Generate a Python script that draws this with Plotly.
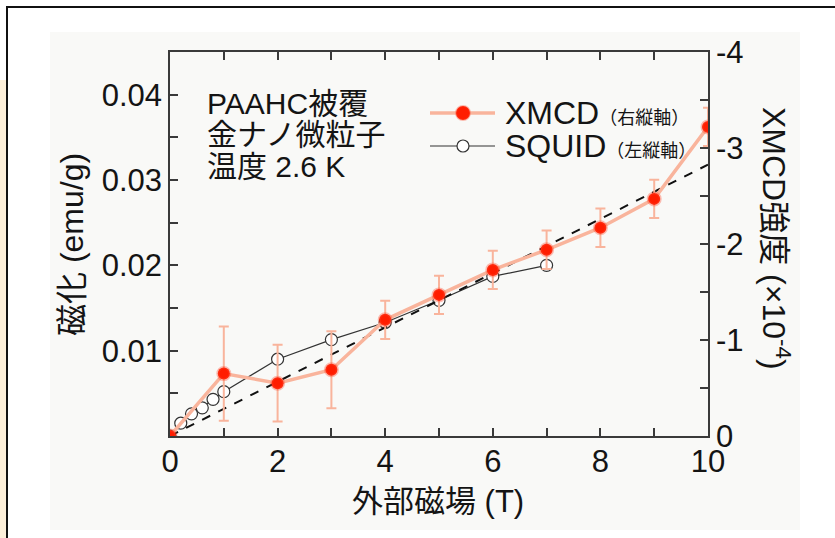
import plotly.graph_objects as go

# ---------------- data ----------------
field_xmcd = [0, 1, 2, 3, 4, 5, 6, 7, 8, 9, 10]
xmcd = [0.0, -0.65, -0.55, -0.69, -1.21, -1.47, -1.73, -1.94, -2.17, -2.47, -3.22]
xmcd_err = [0.0, 0.49, 0.40, 0.40, 0.20, 0.20, 0.20, 0.20, 0.20, 0.20, 0.20]

field_squid = [0, 0.2, 0.4, 0.6, 0.8, 1, 2, 3, 4, 5, 6, 7]
squid = [0.0, 0.0015, 0.0026, 0.0033, 0.0043, 0.0052, 0.0090, 0.0113, 0.0133, 0.0159, 0.0187, 0.0200]

fit_field = [0, 10]
fit_mag = [0.0, 0.0318]

x_tickvals = [0, 1, 2, 3, 4, 5, 6, 7, 8, 9, 10]
x_ticktext = ["0", " ", "2", " ", "4", " ", "6", " ", "8", " ", "10"]
yl_tickvals = [0, 0.005, 0.01, 0.015, 0.02, 0.025, 0.03, 0.035, 0.04, 0.045]
yl_ticktext = [" ", " ", "0.01", " ", "0.02", " ", "0.03", " ", "0.04", " "]
yr_tickvals = [0, -0.5, -1, -1.5, -2, -2.5, -3, -3.5, -4]
yr_ticktext = ["0", " ", "-1", " ", "-2", " ", "-3", " ", "-4"]

notes = ["PAAHC被覆", "金ナノ微粒子", "温度 2.6 K"]
x_title = "外部磁場 (T)"
yl_title = "磁化 (emu/g)"
yr_title = "XMCD強度 (×10<sup>-4</sup>)"
leg_xmcd = "XMCD<span style='font-size:18px'>（右縦軸）</span>"
leg_squid = "SQUID<span style='font-size:18px'>（左縦軸）</span>"

# ---------------- layout geometry ----------------
W, H = 835, 538
L, R, T, B = 170, 708, 52, 436

def px(x):
    return (x - L) / (R - L)

def py(y):
    return (B - y) / (B - T)

FONT = "Liberation Sans, Arial, 'Noto Sans CJK JP', sans-serif"
TXT = "#141414"
AX = "#3a3a3a"
SALMON = "#f9b49c"
RED = "#ff1d00"

fig = go.Figure()

# XMCD line + error bars (right axis)
fig.add_trace(go.Scatter(
    x=field_xmcd, y=xmcd, yaxis="y2", mode="lines",
    line=dict(color=SALMON, width=3.5),
    error_y=dict(type="data", array=xmcd_err, color=SALMON, thickness=2, width=5),
    showlegend=False, hoverinfo="skip"))

# SQUID (left axis)
fig.add_trace(go.Scatter(
    x=field_squid, y=squid, mode="lines+markers",
    line=dict(color="#333333", width=1.2),
    marker=dict(symbol="circle", size=12, color="white",
                line=dict(color="#333333", width=1.2)),
    showlegend=False))

# dashed linear guide
fig.add_trace(go.Scatter(
    x=fit_field, y=fit_mag, mode="lines",
    line=dict(color="#111111", width=2, dash="dash"),
    showlegend=False, hoverinfo="skip"))

# XMCD markers on top
fig.add_trace(go.Scatter(
    x=field_xmcd, y=xmcd, yaxis="y2", mode="markers",
    marker=dict(size=12, color=RED, line=dict(color="rgba(255,70,40,0.35)", width=3)),
    showlegend=False))

shapes = []
# outer frame and decoration
shapes.append(dict(type="rect", xref="paper", yref="paper",
                   x0=px(-2), x1=px(6.5), y0=py(80), y1=py(545),
                   fillcolor="#fcefd9", line=dict(width=0), layer="below"))
shapes.append(dict(type="rect", xref="paper", yref="paper",
                   x0=px(50), x1=px(800), y0=py(32), y1=py(530),
                   fillcolor="#f9f9f7", line=dict(width=0), layer="below"))
shapes.append(dict(type="rect", xref="paper", yref="paper",
                   x0=px(7), x1=px(845), y0=py(7), y1=py(548),
                   fillcolor="rgba(0,0,0,0)", line=dict(color="#111111", width=2), layer="above"))

# legend (manual)
leg_x0, leg_x1, leg_mx = 430, 495, 463
leg_y1, leg_y2 = 113, 146
shapes.append(dict(type="line", xref="paper", yref="paper",
                   x0=px(leg_x0), x1=px(leg_x1), y0=py(leg_y1), y1=py(leg_y1),
                   line=dict(color=SALMON, width=3.5)))
shapes.append(dict(type="circle", xref="paper", yref="paper",
                   x0=px(leg_mx - 7), x1=px(leg_mx + 7), y0=py(leg_y1 + 7), y1=py(leg_y1 - 7),
                   fillcolor=RED, line=dict(color="rgba(255,70,40,0.35)", width=2)))
shapes.append(dict(type="line", xref="paper", yref="paper",
                   x0=px(leg_x0), x1=px(leg_x1), y0=py(leg_y2), y1=py(leg_y2),
                   line=dict(color="#333333", width=1.2)))
shapes.append(dict(type="circle", xref="paper", yref="paper",
                   x0=px(leg_mx - 6), x1=px(leg_mx + 6), y0=py(leg_y2 + 6), y1=py(leg_y2 - 6),
                   fillcolor="white", line=dict(color="#333333", width=1.2)))

annotations = []
for i, t in enumerate(notes):
    annotations.append(dict(text=t, xref="paper", yref="paper", x=px(205), y=py(103 + 31.5 * i),
                            xanchor="left", yanchor="middle", showarrow=False,
                            font=dict(family=FONT, size=30, color=TXT)))
annotations.append(dict(text=leg_xmcd, xref="paper", yref="paper", x=px(503), y=py(leg_y1),
                        xanchor="left", yanchor="middle", showarrow=False,
                        font=dict(family=FONT, size=32, color=TXT)))
annotations.append(dict(text=leg_squid, xref="paper", yref="paper", x=px(503), y=py(leg_y2),
                        xanchor="left", yanchor="middle", showarrow=False,
                        font=dict(family=FONT, size=32, color=TXT)))
annotations.append(dict(text=x_title, xref="paper", yref="paper", x=px(438), y=py(501),
                        xanchor="center", yanchor="middle", showarrow=False,
                        font=dict(family=FONT, size=31, color=TXT)))
annotations.append(dict(text=yl_title, xref="paper", yref="paper", x=px(72), y=py(245),
                        xanchor="center", yanchor="middle", showarrow=False, textangle=-90,
                        font=dict(family=FONT, size=32, color=TXT)))
annotations.append(dict(text=yr_title, xref="paper", yref="paper", x=px(776), y=py(238),
                        xanchor="center", yanchor="middle", showarrow=False, textangle=90,
                        font=dict(family=FONT, size=32, color=TXT)))

fig.update_layout(
    width=W, height=H,
    margin=dict(l=L, r=W - R, t=T, b=H - B, pad=0),
    paper_bgcolor="white", plot_bgcolor="rgba(0,0,0,0)",
    font=dict(family=FONT, size=28, color=TXT),
    shapes=shapes, annotations=annotations, showlegend=False,
    xaxis=dict(range=[0, 10], tickvals=x_tickvals, ticktext=x_ticktext,
               ticks="inside", ticklen=8, tickwidth=1.5, tickcolor=AX,
               showline=True, linecolor=AX, linewidth=1.5, mirror="ticks",
               showgrid=False, zeroline=False, automargin=False, ticklabelstandoff=-3,
               tickfont=dict(family=FONT, size=31, color=TXT)),
    yaxis=dict(range=[0, 0.045], tickvals=yl_tickvals, ticktext=yl_ticktext,
               ticks="inside", ticklen=8, tickwidth=1.5, tickcolor=AX,
               showline=True, linecolor=AX, linewidth=1.5,
               showgrid=False, zeroline=False, automargin=False,
               tickfont=dict(family=FONT, size=31, color=TXT)),
    yaxis2=dict(range=[0, -4], overlaying="y", side="right",
                tickvals=yr_tickvals, ticktext=yr_ticktext,
                ticks="inside", ticklen=8, tickwidth=1.5, tickcolor=AX,
                showline=True, linecolor=AX, linewidth=1.5,
                showgrid=False, zeroline=False, automargin=False,
                tickfont=dict(family=FONT, size=31, color=TXT)),
)

fig.write_html("out.html", config={"displayModeBar": False},
               post_script="document.body.style.margin='0';document.body.style.padding='0';")
